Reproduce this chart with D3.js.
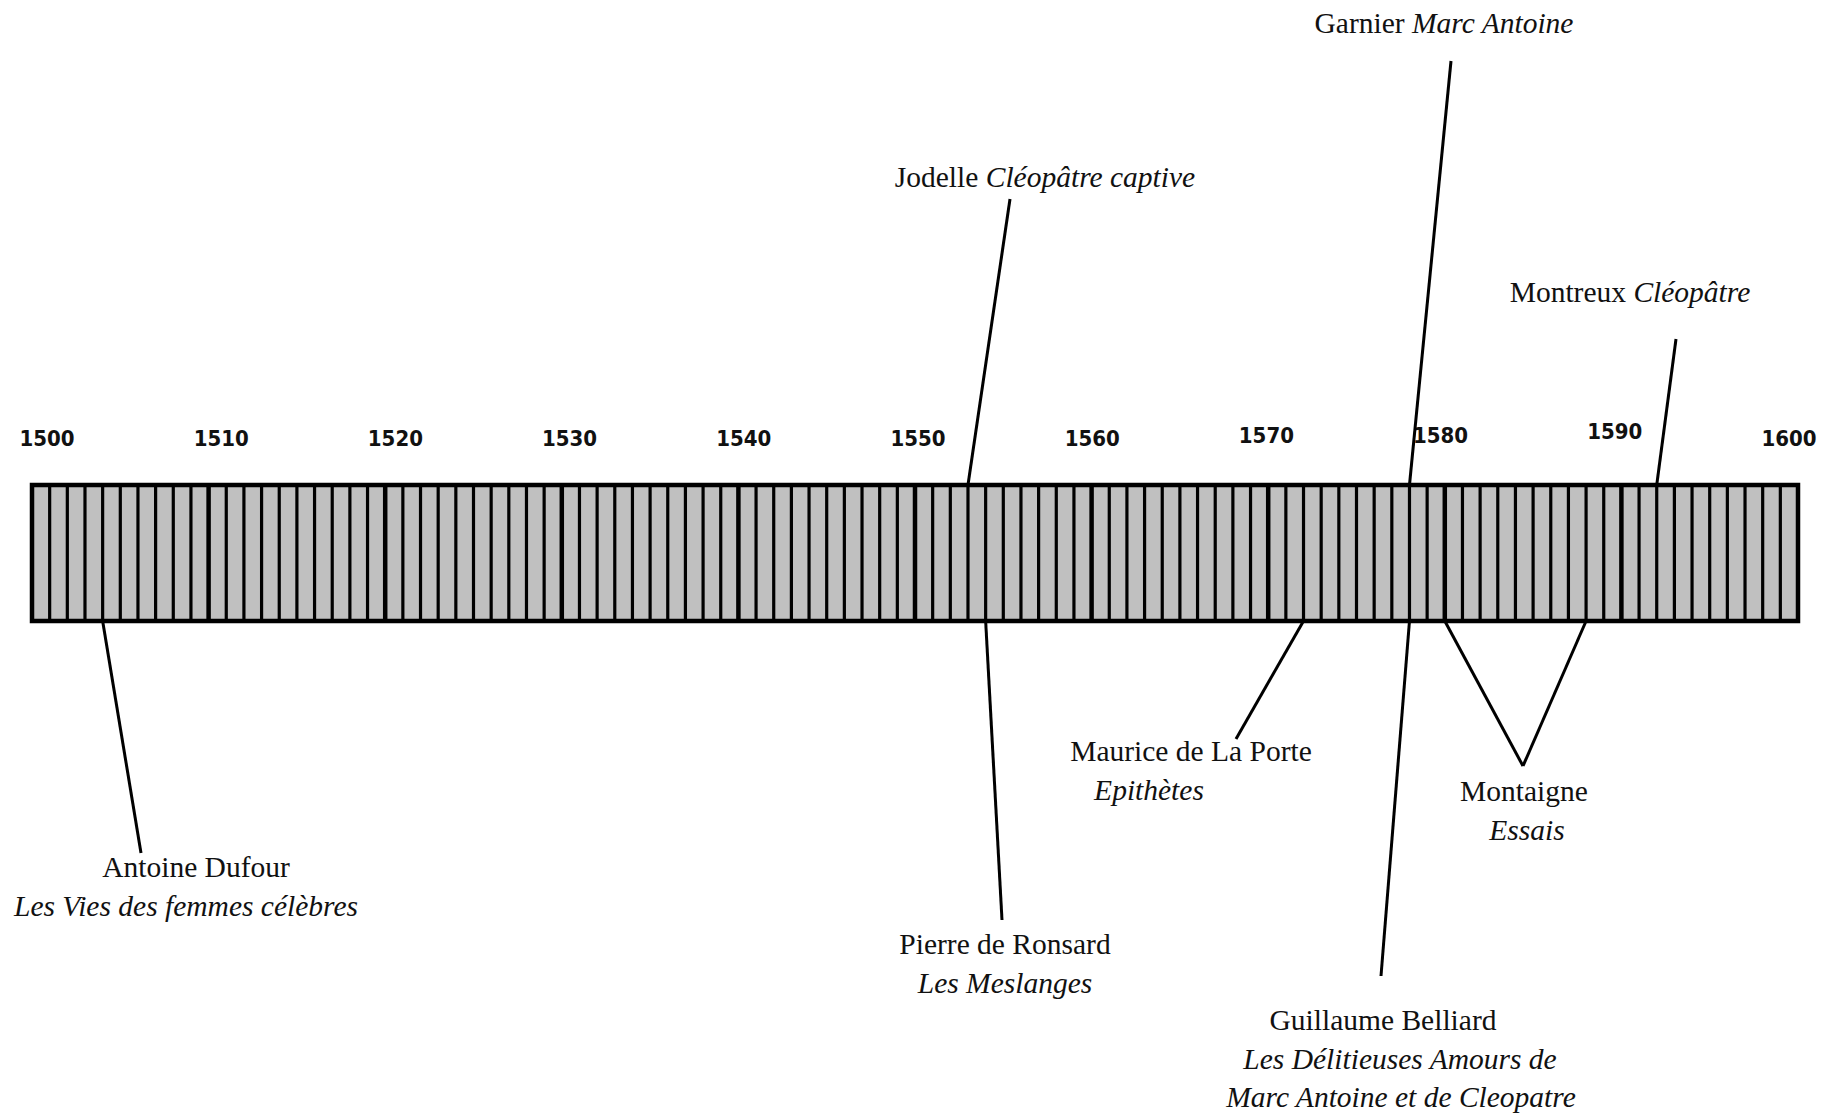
<!DOCTYPE html>
<html>
<head>
<meta charset="utf-8">
<script src="https://cdn.jsdelivr.net/npm/d3@7"></script>
<style>
  body { margin: 0; background: #fff; }
  svg { display: block; }
</style>
</head>
<body>
<script>
// timeline data
var startYear = 1500, endYear = 1600;
var tickYears = [1500, 1510, 1520, 1530, 1540, 1550, 1560, 1570, 1580, 1590, 1600];

var authors = ["Antoine Dufour", "Jodelle", "Garnier", "Montreux",
               "Pierre de Ronsard", "Maurice de La Porte", "Guillaume Belliard", "Montaigne"];
var works = [["Les Vies des femmes célèbres"], ["Cléopâtre captive"], ["Marc Antoine"], ["Cléopâtre"],
             ["Les Meslanges"], ["Epithètes"], ["Les Délitieuses Amours de", "Marc Antoine et de Cleopatre"], ["Essais"]];
var workYears = [[1504], [1553], [1578], [1592], [1554], [1572], [1578], [1580, 1588]];
var sides = ["below", "above", "above", "above", "below", "below", "below", "below"];
var sameLine = [false, true, true, true, false, false, false, false];

// layout (where the leader lines end and where the captions sit)
var leaderEnds = [[141, 853], [1010, 199], [1451, 61], [1676, 339],
                  [1002, 920], [1236, 739], [1381, 976], [1523, 766]];
var captionX = [[196, 186], [1045], [1444], [1630], [1005, 1005], [1191, 1149], [1383, 1400, 1401], [1524, 1527]];
var captionY = [877, 187, 33, 302, 954, 761, 1030, 801];
var tickDy = [0, 0, 0, 0, 0, 0, 0, -3, -3, -7, 0];

var width = 1833, height = 1117;
var barTop = 485, barBottom = 621;
var lineGap = 38.5;

var svg = d3.select("body").append("svg")
    .attr("width", width)
    .attr("height", height);

var x = d3.scaleLinear().domain([startYear, endYear]).range([32, 1798]);
var xLabel = d3.scaleLinear().domain([startYear, endYear]).range([47, 1789]);

// year labels
svg.selectAll(".tick").data(tickYears).enter()
    .append("text")
    .attr("class", "tick")
    .attr("x", function (d) { return xLabel(d); })
    .attr("y", function (d, i) { return 446 + tickDy[i]; })
    .attr("text-anchor", "middle")
    .style("font-family", "'DejaVu Sans Condensed', 'DejaVu Sans', sans-serif")
    .style("font-stretch", "condensed")
    .style("font-weight", "bold")
    .style("font-size", "22px")
    .style("fill", "#111")
    .text(function (d) { return d; });

// the bar
svg.append("rect")
    .attr("x", x(startYear))
    .attr("y", barTop)
    .attr("width", x(endYear) - x(startYear))
    .attr("height", barBottom - barTop)
    .style("fill", "#c0c0c0");

var yearLines = d3.range(startYear + 1, endYear);
svg.selectAll(".year").data(yearLines).enter()
    .append("line")
    .attr("class", "year")
    .attr("x1", function (d) { return x(d); })
    .attr("x2", function (d) { return x(d); })
    .attr("y1", barTop)
    .attr("y2", barBottom)
    .style("stroke", "#000")
    .style("stroke-width", function (d) { return d % 10 === 0 ? 4.5 : 3.2; });

svg.append("rect")
    .attr("x", x(startYear))
    .attr("y", barTop)
    .attr("width", x(endYear) - x(startYear))
    .attr("height", barBottom - barTop)
    .style("fill", "none")
    .style("stroke", "#000")
    .style("stroke-width", 4.5);

// leader lines
authors.forEach(function (a, i) {
    workYears[i].forEach(function (yr) {
        svg.append("line")
            .attr("x1", x(yr))
            .attr("y1", sides[i] === "above" ? barTop : barBottom)
            .attr("x2", leaderEnds[i][0])
            .attr("y2", leaderEnds[i][1])
            .style("stroke", "#000")
            .style("stroke-width", 3);
    });
});

// captions
var serif = "'Liberation Serif', 'Times New Roman', serif";
authors.forEach(function (a, i) {
    if (sameLine[i]) {
        var t = svg.append("text")
            .attr("x", captionX[i][0])
            .attr("y", captionY[i])
            .attr("text-anchor", "middle")
            .style("font-family", serif)
            .style("font-size", "29.5px")
            .style("fill", "#111");
        t.append("tspan").text(a + " ");
        t.append("tspan").style("font-style", "italic").text(works[i][0]);
    } else {
        var lines = [a].concat(works[i]);
        lines.forEach(function (l, j) {
            svg.append("text")
                .attr("x", captionX[i][j])
                .attr("y", captionY[i] + j * lineGap)
                .attr("text-anchor", "middle")
                .style("font-family", serif)
                .style("font-size", "29.5px")
                .style("font-style", j === 0 ? "normal" : "italic")
                .style("fill", "#111")
                .text(l);
        });
    }
});
</script>
</body>
</html>
